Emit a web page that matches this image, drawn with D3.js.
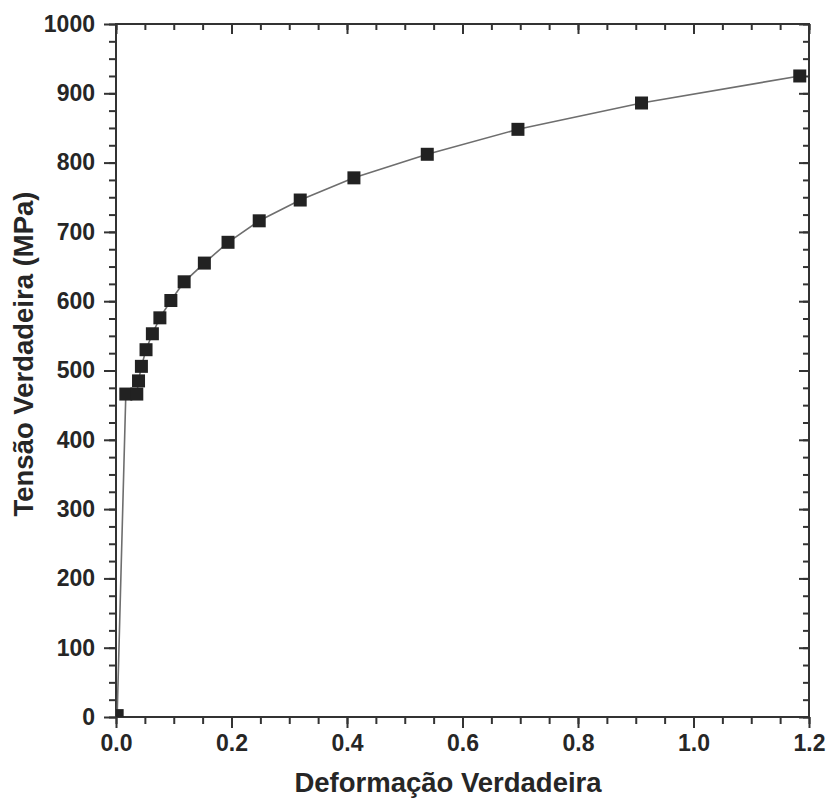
<!DOCTYPE html>
<html>
<head>
<meta charset="utf-8">
<script src="https://cdn.jsdelivr.net/npm/d3@7"></script>
<style>
  body { margin: 0; background: #fff; }
  text { font-family: "Liberation Sans", Arial, sans-serif; font-weight: bold; fill: #262626; }
</style>
</head>
<body>
<svg width="830" height="798"></svg>
<script>
// true strain / true stress
var strain = [0.002, 0.017, 0.036, 0.039, 0.044, 0.052, 0.063, 0.076, 0.095, 0.118, 0.153,
              0.194, 0.248, 0.319, 0.412, 0.539, 0.696, 0.910, 1.184];
var stress = [2, 466, 466, 485, 506, 530, 553, 576, 601, 628, 655,
              685, 716, 746, 778, 812, 848, 886, 925];
var xTicks = [0, 0.2, 0.4, 0.6, 0.8, 1.0, 1.2];
var yTicks = [0, 100, 200, 300, 400, 500, 600, 700, 800, 900, 1000];

var svg = d3.select("svg"),
    margin = {left: 116, top: 24, right: 21, bottom: 81},
    width = 830 - margin.left - margin.right,
    height = 798 - margin.top - margin.bottom;

var x = d3.scaleLinear().domain([0, 1.2]).range([0, width]);
var y = d3.scaleLinear().domain([0, 1000]).range([height, 0]);

var g = svg.append("g").attr("transform", "translate(" + margin.left + "," + margin.top + ")");

svg.append("defs").append("clipPath").attr("id", "clip")
    .append("rect").attr("width", width).attr("height", height);

var axisColor = "#333";

function styleAxis(sel) {
    sel.select(".domain").remove();
    sel.selectAll("line").attr("stroke", axisColor).attr("stroke-width", 2);
    sel.selectAll("text").attr("font-size", 23).attr("fill", "#262626");
}

// minor ticks
var xMinor = d3.range(0, 1.2001, 0.05);
var yMinor = d3.range(0, 1000.1, 25);

g.append("g").attr("transform", "translate(0," + height + ")")
    .call(d3.axisBottom(x).tickValues(xMinor).tickSize(7).tickFormat(""))
    .call(styleAxis);
g.append("g")
    .call(d3.axisLeft(y).tickValues(yMinor).tickSize(7).tickFormat(""))
    .call(styleAxis);
g.append("g")
    .call(d3.axisTop(x).tickValues(xMinor).tickSize(-6).tickFormat(""))
    .call(styleAxis);
g.append("g").attr("transform", "translate(" + width + ",0)")
    .call(d3.axisRight(y).tickValues(yMinor).tickSize(-6).tickFormat(""))
    .call(styleAxis);

// major ticks
g.append("g").attr("transform", "translate(0," + height + ")")
    .call(d3.axisBottom(x).tickValues(xTicks).tickSize(11).tickPadding(7).tickFormat(d3.format(".1f")))
    .call(styleAxis);
g.append("g")
    .call(d3.axisLeft(y).tickValues(yTicks).tickSize(12).tickPadding(9).tickFormat(d3.format("d")))
    .call(styleAxis);
g.append("g")
    .call(d3.axisTop(x).tickValues(xTicks).tickSize(-10).tickFormat(""))
    .call(styleAxis);
g.append("g").attr("transform", "translate(" + width + ",0)")
    .call(d3.axisRight(y).tickValues(yTicks).tickSize(-10).tickFormat(""))
    .call(styleAxis);

// frame
g.append("rect").attr("width", width).attr("height", height)
    .attr("fill", "none").attr("stroke", axisColor).attr("stroke-width", 2);

var pts = strain.map(function(d, i) { return {x: d, y: stress[i]}; });

var plot = g.append("g").attr("clip-path", "url(#clip)");

plot.append("path").datum(pts)
    .attr("fill", "none").attr("stroke", "#6e6e6e").attr("stroke-width", 1.6)
    .attr("d", d3.line().x(function(d) { return x(d.x); }).y(function(d) { return y(d.y); }));

var s = 13;
plot.selectAll(".pt").data(pts).enter().append("rect")
    .attr("x", function(d) { return x(d.x) - s / 2; })
    .attr("y", function(d) { return y(d.y) - s / 2; })
    .attr("width", s).attr("height", s)
    .attr("fill", "#222");

svg.append("text")
    .attr("x", 448).attr("y", 792)
    .attr("text-anchor", "middle").attr("font-size", 27.5)
    .text("Deformação Verdadeira");

svg.append("text")
    .attr("transform", "translate(33,354) rotate(-90)")
    .attr("text-anchor", "middle").attr("font-size", 27.5)
    .text("Tensão Verdadeira (MPa)");
</script>
</body>
</html>
